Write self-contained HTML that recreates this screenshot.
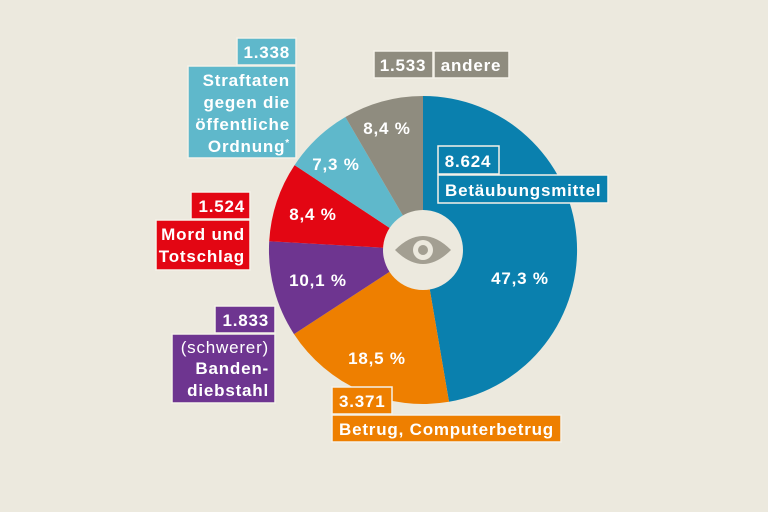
<!DOCTYPE html>
<html><head><meta charset="utf-8"><style>
body{margin:0;background:#ece9de;}
svg{display:block}
text{font-family:"Liberation Sans",sans-serif;font-weight:bold;fill:#fff;font-size:17px;letter-spacing:0.8px}
.b{stroke:#f4f1e8;stroke-width:1.5}
</style></head><body>
<svg width="768" height="512" viewBox="0 0 768 512">
<rect width="768" height="512" fill="#ece9de"/>
<path d="M423,250 L423,96 A154,154 0 0 1 449,401.8 Z" fill="#0a80ae"/>
<path d="M423,250 L449,401.8 A154,154 0 0 1 294,334.1 Z" fill="#ee7f00"/>
<path d="M423,250 L294,334.1 A154,154 0 0 1 269.2,241.3 Z" fill="#6e3590"/>
<path d="M423,250 L269.2,241.3 A154,154 0 0 1 294.6,165.1 Z" fill="#e30613"/>
<path d="M423,250 L294.6,165.1 A154,154 0 0 1 345.4,117 Z" fill="#5fb8cb"/>
<path d="M423,250 L345.4,117 A154,154 0 0 1 423,96 Z" fill="#8f8c7f"/>
<circle cx="423" cy="250" r="40" fill="#ece9de"/>
<path d="M395,250 Q423,222 451,250 Q423,278 395,250 Z" fill="#a39f92"/>
<circle cx="423" cy="250" r="10" fill="#ece9de"/>
<circle cx="423" cy="250" r="5" fill="#a39f92"/>

<text x="387" y="134" text-anchor="middle">8,4 %</text>
<text x="336" y="170" text-anchor="middle">7,3 %</text>
<text x="313" y="220" text-anchor="middle">8,4 %</text>
<text x="318" y="286" text-anchor="middle">10,1 %</text>
<text x="377" y="364" text-anchor="middle">18,5 %</text>
<text x="520" y="284" text-anchor="middle">47,3 %</text>

<rect class="b" x="237" y="38" width="59" height="27" fill="#5fb8cb"/>
<text x="290" y="58" text-anchor="end">1.338</text>
<rect class="b" x="188" y="66" width="108" height="92" fill="#5fb8cb"/>
<text x="290" y="86" text-anchor="end">Straftaten</text>
<text x="290" y="108" text-anchor="end">gegen die</text>
<text x="290" y="130" text-anchor="end">öffentliche</text>
<text x="290" y="152" text-anchor="end">Ordnung<tspan font-size="10" dy="-6">*</tspan></text>

<rect class="b" x="374" y="51" width="59" height="27" fill="#8f8c7f"/>
<text x="403" y="71" text-anchor="middle">1.533</text>
<rect class="b" x="434" y="51" width="75" height="27" fill="#8f8c7f"/>
<text x="471" y="71" text-anchor="middle">andere</text>

<rect class="b" x="438" y="146" width="61" height="28" fill="#0a80ae"/>
<text x="468" y="167" text-anchor="middle">8.624</text>
<rect class="b" x="438" y="175" width="170" height="28" fill="#0a80ae"/>
<text x="445" y="196">Betäubungsmittel</text>

<rect class="b" x="191" y="192" width="59" height="27" fill="#e30613"/>
<text x="245" y="212" text-anchor="end">1.524</text>
<rect class="b" x="156" y="220" width="94" height="50" fill="#e30613"/>
<text x="245" y="240" text-anchor="end">Mord und</text>
<text x="245" y="262" text-anchor="end">Totschlag</text>

<rect class="b" x="215" y="306" width="60" height="27" fill="#6e3590"/>
<text x="269" y="326" text-anchor="end">1.833</text>
<rect class="b" x="172" y="334" width="103" height="69" fill="#6e3590"/>
<text x="269" y="353" text-anchor="end" style="font-weight:normal">(schwerer)</text>
<text x="269" y="374" text-anchor="end">Banden-</text>
<text x="269" y="396" text-anchor="end">diebstahl</text>

<rect class="b" x="332" y="387" width="60" height="27" fill="#ee7f00"/>
<text x="339" y="407">3.371</text>
<rect class="b" x="332" y="415" width="229" height="27" fill="#ee7f00"/>
<text x="339" y="435">Betrug, Computerbetrug</text>
</svg>
</body></html>
